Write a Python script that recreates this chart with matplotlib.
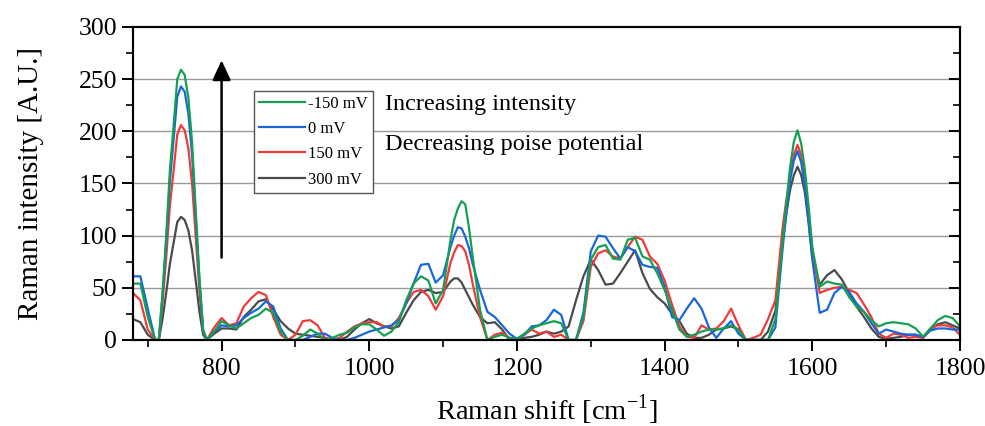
import matplotlib
matplotlib.use("Agg")
import matplotlib.pyplot as plt
from matplotlib.ticker import MultipleLocator

plt.rcParams['font.family'] = ['Liberation Serif', 'DejaVu Serif']

# Raman shift (cm-1), shared by all four spectra; finer steps on the sharp bands
shift = [680, 690, 700, 710, 715, 720, 725, 730, 735, 740, 745, 750, 755, 760,
         765, 770, 775, 780,
         790, 800, 810, 820, 830, 840, 850, 860, 870, 880,
         890, 900, 910, 920, 930, 940, 950, 960, 970, 980,
         990, 1000, 1010, 1020, 1030, 1040, 1050, 1060, 1070, 1080,
         1090, 1100,
         1110, 1115, 1120, 1125, 1130, 1135, 1140,
         1150, 1160, 1170, 1180, 1190, 1200, 1210, 1220, 1230, 1240,
         1250, 1260, 1270, 1280, 1290, 1300, 1310, 1320, 1330, 1340,
         1350, 1360, 1370, 1380, 1390, 1400, 1410, 1420, 1430, 1440,
         1450, 1460, 1470, 1480, 1490, 1500, 1510, 1520, 1530, 1540,
         1550,
         1560, 1565, 1570, 1575, 1580, 1585, 1590, 1595, 1600,
         1610, 1620, 1630, 1640, 1650, 1660, 1670, 1680, 1690, 1700,
         1710, 1720, 1730, 1740, 1750, 1760, 1770, 1780, 1790, 1800]

# -150 mV
int_m150 = [54, 54, 22, 0, 0, 45, 100, 163, 205, 250, 259, 254, 232, 190,
            125, 60, 10, 0,
            8, 18, 14, 11, 16, 21, 24, 30, 26, 8,
            0, 0, 4, 10, 6, 0, 2, 5, 7, 12,
            15, 15, 10, 4, 8, 17, 38, 54, 61, 57,
            35, 48,
            96, 115, 126, 133, 130, 108, 80,
            29, 0, 3, 5, 2, 1, 6, 11, 14, 16,
            18, 16, 0, 0, 22, 77, 89, 91, 78, 77,
            96, 98, 80, 77, 64, 48, 29, 10, 3, 5,
            8, 10, 10, 11, 14, 10, 0, 0, 0, 0,
            20,
            96, 132, 166, 190, 201, 188, 163, 128, 89,
            51, 56, 54, 53, 41, 32, 27, 19, 13, 16,
            17, 16, 15, 11, 3, 11, 19, 23, 21, 13]

# 0 mV
int_0 = [61, 61, 30, 0, 0, 42, 94, 152, 192, 233, 243, 238, 217, 178,
         117, 56, 9, 0,
         8, 14, 13, 14, 21, 26, 30, 37, 32, 11,
         0, 0, 0, 3, 6, 6, 2, 0, 0, 2,
         5, 8, 10, 12, 14, 19, 35, 54, 72, 73,
         55, 62,
         89, 100, 108, 107, 99, 88, 73,
         48, 27, 22, 14, 6, 1, 5, 13, 14, 19,
         29, 24, 0, 0, 26, 85, 100, 99, 88, 78,
         89, 85, 72, 70, 69, 51, 22, 19, 30, 40,
         30, 12, 2, 11, 18, 6, 0, 0, 0, 0,
         12,
         89, 122, 153, 172, 181, 170, 147, 114, 77,
         26, 29, 45, 51, 46, 35, 27, 16, 6, 10,
         8, 6, 5, 5, 3, 9, 11, 11, 10, 10]

# 150 mV
int_150 = [45, 38, 10, 0, 0, 36, 79, 129, 162, 197, 206, 201, 184, 150,
           99, 47, 8, 0,
           12, 21, 14, 16, 32, 40, 46, 43, 22, 5,
           0, 5, 18, 19, 14, 2, 0, 2, 8, 13,
           16, 17, 17, 13, 13, 21, 35, 46, 48, 42,
           29, 42,
           74, 84, 91, 90, 85, 72, 54,
           22, 0, 5, 7, 2, 1, 5, 10, 6, 8,
           3, 5, 0, 0, 18, 70, 83, 86, 80, 78,
           89, 99, 96, 80, 73, 57, 34, 13, 3, 2,
           14, 10, 11, 18, 30, 14, 0, 2, 5, 20,
           38,
           109, 135, 157, 177, 187, 177, 153, 120, 86,
           45, 48, 50, 51, 48, 45, 34, 22, 6, 2,
           6, 5, 2, 3, 2, 11, 14, 14, 12, 5]

# 300 mV
int_300 = [20, 17, 5, 0, 0, 20, 45, 73, 93, 113, 118, 115, 105, 86,
           57, 27, 5, 0,
           6, 11, 11, 10, 22, 29, 37, 39, 29, 18,
           11, 6, 5, 4, 3, 2, 0, 0, 3, 10,
           16, 20, 16, 13, 11, 13, 26, 38, 46, 48,
           45, 46,
           56, 59, 59, 55, 48, 41, 34,
           22, 16, 17, 10, 0, 0, 2, 3, 5, 8,
           6, 8, 13, 38, 61, 77, 67, 53, 54, 64,
           75, 86, 64, 49, 41, 35, 25, 18, 6, 2,
           2, 5, 10, 11, 13, 10, 0, 0, 0, 8,
           28,
           96, 122, 144, 158, 166, 158, 141, 112, 80,
           53, 62, 67, 58, 45, 32, 22, 11, 3, 1,
           2, 3, 5, 5, 2, 10, 15, 17, 14, 11]

fig = plt.figure(figsize=(9.85, 4.26), dpi=100)
ax = fig.add_axes([0.135, 0.202, 0.8396, 0.7347])

# horizontal grid
for g in [50, 100, 150, 200, 250]:
    ax.axhline(g, color='#9a9a9a', lw=1.0, zorder=0)

l300, = ax.plot(shift, int_300, color='#4a4a4a', lw=1.6, label='300 mV')
l150, = ax.plot(shift, int_150, color='#f03a3a', lw=1.6, label='150 mV')
l0, = ax.plot(shift, int_0, color='#1a66dd', lw=1.6, label='0 mV')
lm150, = ax.plot(shift, int_m150, color='#14a050', lw=1.6, label='-150 mV')

ax.set_xlim(680, 1800)
ax.set_ylim(0, 300)
ax.xaxis.set_major_locator(MultipleLocator(200))
ax.xaxis.set_minor_locator(MultipleLocator(100))
ax.yaxis.set_major_locator(MultipleLocator(50))
ax.yaxis.set_minor_locator(MultipleLocator(25))

ax.tick_params(axis='both', which='major', labelsize=18.5, width=1.4, length=8,
               direction='out', top=False)
ax.tick_params(axis='both', which='minor', width=1.2, length=5,
               direction='out', top=False)
ax.tick_params(axis='x', which='major', pad=5)

# inward ticks on the right frame
ax2 = ax.twinx()
ax2.set_ylim(0, 300)
ax2.yaxis.set_major_locator(MultipleLocator(50))
ax2.yaxis.set_minor_locator(MultipleLocator(25))
ax2.tick_params(axis='y', which='major', direction='in', length=8, width=1.4,
                labelright=False)
ax2.tick_params(axis='y', which='minor', direction='in', length=5, width=1.2)

for a in (ax, ax2):
    for sp in a.spines.values():
        sp.set_linewidth(1.5)

ax.set_xlabel('Raman shift [cm$^{\\mathregular{-1}}$]', fontsize=20.5, labelpad=9)
ax.set_ylabel('Raman intensity [A.U.]', fontsize=21, labelpad=25)

ax.annotate('', xy=(800, 268), xytext=(800, 79),
            arrowprops=dict(arrowstyle='-|>,head_length=0.6,head_width=0.28',
                            color='black', lw=1.8, mutation_scale=20,
                            shrinkA=0, shrinkB=0))

ax.text(1021, 226, 'Increasing intensity', fontsize=17.5, va='center')
ax.text(1021, 187, 'Decreasing poise potential', fontsize=17.5, va='center')

leg = ax.legend(handles=[lm150, l0, l150, l300], loc='upper left',
                bbox_to_anchor=(0.146, 0.797), fontsize=12, frameon=True,
                fancybox=False, edgecolor='#555555', framealpha=1,
                handlelength=2.8, handletextpad=0.15, borderpad=0.3,
                labelspacing=0.56, borderaxespad=0)
leg.get_frame().set_linewidth(1.0)

fig.savefig('out.png', dpi=100)
